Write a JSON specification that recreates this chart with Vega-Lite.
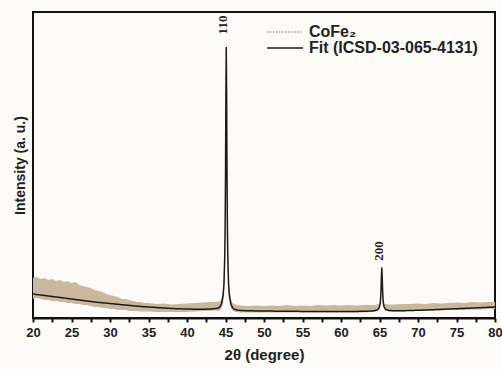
{
  "$schema": "https://vega.github.io/schema/vega-lite/v6.json",
  "width": 462,
  "height": 306,
  "autosize": {"type": "none"},
  "padding": {"left": 33, "top": 12, "right": 7, "bottom": 51},
  "background": "#fdfbf8",
  "config": {
    "font": "Liberation Sans",
    "view": {"stroke": "#111111", "strokeWidth": 2},
    "axis": {"labelOverlap": false}
  },
  "datasets": {
    "band": [
      {"x": 20, "lo": 19, "hi": 40}, {"x": 20.5, "lo": 20, "hi": 41}, {"x": 21, "lo": 19, "hi": 39},
      {"x": 21.5, "lo": 18, "hi": 40}, {"x": 22, "lo": 18, "hi": 38}, {"x": 22.5, "lo": 17, "hi": 39},
      {"x": 23, "lo": 17, "hi": 37}, {"x": 23.5, "lo": 16, "hi": 38}, {"x": 24, "lo": 16, "hi": 36},
      {"x": 24.5, "lo": 15, "hi": 37}, {"x": 25, "lo": 15, "hi": 35}, {"x": 25.5, "lo": 14, "hi": 36},
      {"x": 26, "lo": 14, "hi": 33}, {"x": 26.5, "lo": 13, "hi": 32}, {"x": 27, "lo": 13, "hi": 31},
      {"x": 27.5, "lo": 12, "hi": 30}, {"x": 28, "lo": 11, "hi": 28}, {"x": 28.5, "lo": 11, "hi": 27},
      {"x": 29, "lo": 10, "hi": 26}, {"x": 29.5, "lo": 10, "hi": 24}, {"x": 30, "lo": 9, "hi": 23},
      {"x": 30.5, "lo": 9, "hi": 22}, {"x": 31, "lo": 8, "hi": 21}, {"x": 31.5, "lo": 8, "hi": 19},
      {"x": 32, "lo": 8, "hi": 19}, {"x": 32.5, "lo": 7, "hi": 18}, {"x": 33, "lo": 7, "hi": 17},
      {"x": 33.5, "lo": 7, "hi": 16}, {"x": 34, "lo": 6.5, "hi": 16}, {"x": 34.5, "lo": 6.5, "hi": 15},
      {"x": 35, "lo": 6.5, "hi": 15}, {"x": 36, "lo": 6, "hi": 14}, {"x": 37, "lo": 6, "hi": 14.5},
      {"x": 38, "lo": 6, "hi": 13.5}, {"x": 39, "lo": 6, "hi": 14}, {"x": 40, "lo": 6, "hi": 14.5},
      {"x": 41, "lo": 6.5, "hi": 15}, {"x": 42, "lo": 7, "hi": 15.5}, {"x": 43, "lo": 7, "hi": 16},
      {"x": 43.5, "lo": 7.5, "hi": 16}, {"x": 44.1, "lo": 7, "hi": 16}, {"x": 44.3, "lo": 8, "hi": 17},
      {"x": 44.5, "lo": 10, "hi": 20}, {"x": 44.7, "lo": 16, "hi": 30}, {"x": 44.8, "lo": 25, "hi": 42},
      {"x": 44.9, "lo": 46, "hi": 75}, {"x": 44.95, "lo": 70, "hi": 108}, {"x": 45.0, "lo": 118, "hi": 165},
      {"x": 45.05, "lo": 192, "hi": 240}, {"x": 45.1, "lo": 258, "hi": 281}, {"x": 45.15, "lo": 192, "hi": 240},
      {"x": 45.2, "lo": 118, "hi": 165}, {"x": 45.25, "lo": 70, "hi": 108}, {"x": 45.3, "lo": 46, "hi": 75},
      {"x": 45.4, "lo": 25, "hi": 42}, {"x": 45.5, "lo": 16, "hi": 30}, {"x": 45.7, "lo": 10, "hi": 19},
      {"x": 45.9, "lo": 8, "hi": 15}, {"x": 46.1, "lo": 6.5, "hi": 14}, {"x": 46.5, "lo": 6, "hi": 13},
      {"x": 47, "lo": 5.5, "hi": 12.5}, {"x": 48, "lo": 5.5, "hi": 12}, {"x": 49, "lo": 5.5, "hi": 12.5},
      {"x": 50, "lo": 5.5, "hi": 12}, {"x": 51, "lo": 5.5, "hi": 12.5}, {"x": 52, "lo": 5.5, "hi": 12},
      {"x": 53, "lo": 5.5, "hi": 13}, {"x": 54, "lo": 5.5, "hi": 12}, {"x": 55, "lo": 5.5, "hi": 12.5},
      {"x": 56, "lo": 5.5, "hi": 12}, {"x": 57, "lo": 5.5, "hi": 13}, {"x": 58, "lo": 5.5, "hi": 12.5},
      {"x": 59, "lo": 5.5, "hi": 13}, {"x": 60, "lo": 5.5, "hi": 12.5}, {"x": 61, "lo": 5.5, "hi": 13},
      {"x": 62, "lo": 5.5, "hi": 12.5}, {"x": 63, "lo": 5.5, "hi": 13}, {"x": 64, "lo": 6, "hi": 13},
      {"x": 64.5, "lo": 6.5, "hi": 13}, {"x": 64.8, "lo": 7.5, "hi": 14}, {"x": 65.0, "lo": 9, "hi": 14},
      {"x": 65.1, "lo": 13, "hi": 18}, {"x": 65.15, "lo": 17, "hi": 23}, {"x": 65.2, "lo": 25, "hi": 31},
      {"x": 65.25, "lo": 38, "hi": 45}, {"x": 65.3, "lo": 48, "hi": 54}, {"x": 65.35, "lo": 38, "hi": 45},
      {"x": 65.4, "lo": 25, "hi": 31}, {"x": 65.45, "lo": 17, "hi": 23}, {"x": 65.5, "lo": 13, "hi": 18},
      {"x": 65.6, "lo": 9, "hi": 14}, {"x": 65.8, "lo": 7.5, "hi": 14}, {"x": 66.2, "lo": 6.5, "hi": 13.5},
      {"x": 67, "lo": 6.5, "hi": 13.5}, {"x": 68, "lo": 6.5, "hi": 14}, {"x": 69, "lo": 7, "hi": 14},
      {"x": 70, "lo": 7, "hi": 14.5}, {"x": 71, "lo": 7, "hi": 14}, {"x": 72, "lo": 7.5, "hi": 15},
      {"x": 73, "lo": 7.5, "hi": 14.5}, {"x": 74, "lo": 8, "hi": 15}, {"x": 75, "lo": 8, "hi": 15.5},
      {"x": 76, "lo": 8, "hi": 15}, {"x": 77, "lo": 8.5, "hi": 16}, {"x": 78, "lo": 8.5, "hi": 15.5},
      {"x": 79, "lo": 9, "hi": 16}, {"x": 80, "lo": 9, "hi": 16}
    ],
    "fit": [
      {"x": 20, "y": 24}, {"x": 21, "y": 23}, {"x": 22, "y": 22}, {"x": 23, "y": 21}, {"x": 24, "y": 20},
      {"x": 25, "y": 19}, {"x": 26, "y": 18}, {"x": 27, "y": 17}, {"x": 28, "y": 16}, {"x": 29, "y": 15.2},
      {"x": 30, "y": 14.5}, {"x": 31, "y": 13.7}, {"x": 32, "y": 13}, {"x": 33, "y": 12.2}, {"x": 34, "y": 11.5},
      {"x": 35, "y": 11}, {"x": 36, "y": 10.5}, {"x": 37, "y": 10}, {"x": 38, "y": 9.5}, {"x": 39, "y": 9.2},
      {"x": 40, "y": 9}, {"x": 41, "y": 8.8}, {"x": 42, "y": 8.8}, {"x": 43, "y": 9}, {"x": 43.5, "y": 9.3},
      {"x": 44.1, "y": 10}, {"x": 44.3, "y": 11.5}, {"x": 44.5, "y": 14.5}, {"x": 44.7, "y": 23},
      {"x": 44.8, "y": 34}, {"x": 44.9, "y": 61}, {"x": 44.95, "y": 89}, {"x": 45.0, "y": 139},
      {"x": 45.05, "y": 218}, {"x": 45.1, "y": 271}, {"x": 45.15, "y": 218}, {"x": 45.2, "y": 139},
      {"x": 45.25, "y": 89}, {"x": 45.3, "y": 61}, {"x": 45.4, "y": 34}, {"x": 45.5, "y": 23},
      {"x": 45.7, "y": 14}, {"x": 45.9, "y": 10.5}, {"x": 46.1, "y": 9}, {"x": 46.5, "y": 8}, {"x": 47, "y": 7.5},
      {"x": 48, "y": 7.2}, {"x": 50, "y": 7}, {"x": 52, "y": 6.8}, {"x": 55, "y": 6.6}, {"x": 58, "y": 6.5},
      {"x": 60, "y": 6.5}, {"x": 62, "y": 6.6}, {"x": 63, "y": 6.7}, {"x": 64, "y": 7}, {"x": 64.5, "y": 7.5},
      {"x": 64.8, "y": 8.5}, {"x": 65.0, "y": 11}, {"x": 65.1, "y": 15}, {"x": 65.15, "y": 20},
      {"x": 65.2, "y": 28.5}, {"x": 65.25, "y": 41.5}, {"x": 65.3, "y": 50.5}, {"x": 65.35, "y": 41.5},
      {"x": 65.4, "y": 28.5}, {"x": 65.45, "y": 20}, {"x": 65.5, "y": 15}, {"x": 65.6, "y": 11},
      {"x": 65.8, "y": 8.7}, {"x": 66.2, "y": 7.5}, {"x": 67, "y": 7.2}, {"x": 68, "y": 7.3}, {"x": 70, "y": 7.7},
      {"x": 72, "y": 8.3}, {"x": 74, "y": 9}, {"x": 76, "y": 9.6}, {"x": 78, "y": 10.3}, {"x": 80, "y": 11}
    ],
    "peaks": [
      {"x": 44.7, "y": 293, "label": "110"},
      {"x": 64.9, "y": 67, "label": "200"}
    ]
  },
  "encoding": {
    "x": {
      "field": "x", "type": "quantitative",
      "scale": {"domain": [20, 80], "nice": false},
      "axis": {
        "title": "2θ (degree)",
        "values": [20, 22.5, 25, 27.5, 30, 32.5, 35, 37.5, 40, 42.5, 45, 47.5, 50, 52.5, 55, 57.5, 60, 62.5, 65, 67.5, 70, 72.5, 75, 77.5, 80],
        "labelExpr": "datum.value % 5 === 0 ? format(datum.value, 'd') : ''",
        "labelOverlap": false,
        "labelBound": false,
        "grid": false,
        "domainColor": "#111111", "domainWidth": 2,
        "tickColor": "#111111", "tickWidth": 2, "tickSize": 4,
        "labelFont": "Liberation Sans", "labelFontSize": 13, "labelFontWeight": "bold", "labelColor": "#222222",
        "labelPadding": 4, "labelFlush": false,
        "titleFont": "Liberation Sans", "titleFontSize": 15, "titleFontWeight": "bold", "titleColor": "#222222",
        "titlePadding": 8
      }
    }
  },
  "layer": [
    {
      "data": {"name": "band"},
      "mark": {"type": "area", "opacity": 1, "interpolate": "linear", "color": "#c9b89d"},
      "encoding": {
        "y": {
          "field": "lo", "type": "quantitative",
          "scale": {"domain": [0, 306], "nice": false},
          "axis": {
            "title": "Intensity (a. u.)",
            "labels": false, "ticks": false, "grid": false, "domain": false,
            "titleFont": "Liberation Sans", "titleFontSize": 14, "titleFontWeight": "bold", "titleColor": "#222222",
            "titlePadding": 6
          }
        },
        "y2": {"field": "hi"}
      }
    },
    {
      "data": {"name": "fit"},
      "mark": {"type": "line", "strokeWidth": 1.5},
      "encoding": {
        "y": {"field": "y", "type": "quantitative"},
        "color": {
          "datum": "Fit (ICSD-03-065-4131)", "type": "nominal",
          "scale": {"domain": ["CoFe₂", "Fit (ICSD-03-065-4131)"], "range": ["#a99c8a", "#1c1a16"]},
          "legend": {
            "title": null,
            "orient": "none",
            "legendX": 244,
            "legendY": 12,
            "symbolType": "M-3,0H3",
            "symbolSize": 144,
            "labelFont": "Liberation Sans",
            "labelFontSize": 16,
            "labelFontWeight": "bold",
            "labelColor": "#222222",
            "labelOffset": 16,
            "labelLimit": 400,
            "rowPadding": -4
          }
        },
        "strokeDash": {
          "datum": "Fit (ICSD-03-065-4131)", "type": "nominal",
          "scale": {"domain": ["CoFe₂", "Fit (ICSD-03-065-4131)"], "range": [[1.5, 1.5], [1, 0]]},
          "legend": {
            "title": null,
            "orient": "none",
            "legendX": 244,
            "legendY": 12,
            "symbolType": "M-3,0H3",
            "symbolSize": 144,
            "labelFont": "Liberation Sans",
            "labelFontSize": 16,
            "labelFontWeight": "bold",
            "labelColor": "#222222",
            "labelOffset": 16,
            "labelLimit": 400,
            "rowPadding": -4
          }
        }
      }
    },
    {
      "data": {"name": "peaks"},
      "mark": {"type": "text", "angle": 270, "align": "center", "baseline": "middle", "font": "Liberation Serif", "fontSize": 13, "fontWeight": "bold", "color": "#222222"},
      "encoding": {
        "y": {"field": "y", "type": "quantitative"},
        "text": {"field": "label"}
      }
    },
    {
      "data": {"values": [{"label": "N = 24"}]},
      "mark": {"type": "text", "align": "left", "baseline": "middle", "font": "Liberation Sans", "fontSize": 16, "fontWeight": "bold", "color": "#222222"},
      "encoding": {
        "x": {"datum": 54.4, "type": "quantitative"},
        "y": {"datum": 234, "type": "quantitative"},
        "text": {"field": "label"}
      }
    }
  ]
}
